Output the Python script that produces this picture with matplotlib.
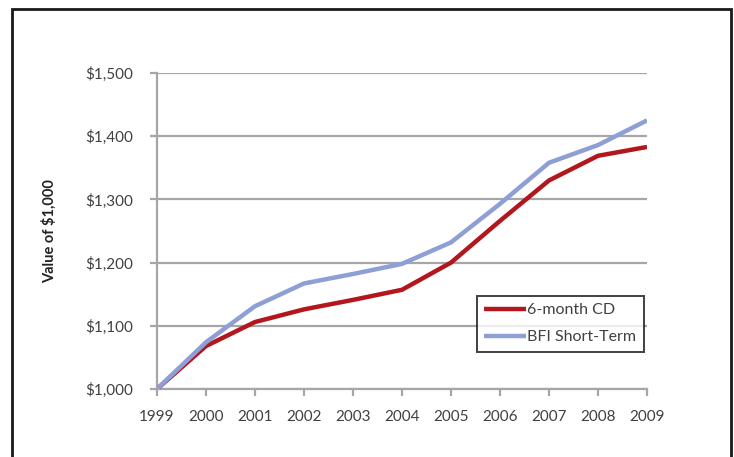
import matplotlib.pyplot as plt
from matplotlib.patches import Rectangle
from matplotlib.ticker import FuncFormatter

plt.rcParams['font.family'] = ['Lato', 'DejaVu Sans']

# Data
years = [1999, 2000, 2001, 2002, 2003, 2004, 2005, 2006, 2007, 2008, 2009]
cd_values = [1000, 1068, 1106, 1126, 1141, 1157, 1200, 1266, 1330, 1369, 1383]
bfi_values = [1000, 1074, 1131, 1167, 1182, 1198, 1232, 1293, 1358, 1386, 1425]
series_labels = ['6-month CD', 'BFI Short-Term']

text_color = '#404040'
grid_color = '#a6a6a6'

fig = plt.figure(figsize=(7.34, 4.57), dpi=100)
ax = fig.add_axes([157 / 734, 1 - 389 / 457, 490 / 734, 316 / 457])

ax.plot(years, cd_values, color='#b3161d', linewidth=3.2, label=series_labels[0],
        solid_capstyle='butt', zorder=3)
ax.plot(years, bfi_values, color='#8e9fd5', linewidth=3.2, label=series_labels[1],
        solid_capstyle='butt', zorder=4)

ax.set_xlim(1999, 2009)
ax.set_ylim(1000, 1500)
ax.set_xticks(years)
ax.set_yticks([1000, 1100, 1200, 1300, 1400, 1500])
ax.yaxis.set_major_formatter(FuncFormatter(lambda v, p: f'${v:,.0f}'))

ax.grid(True, axis='y', color=grid_color, linewidth=1.6)
ax.set_axisbelow(True)
for side in ['top', 'right']:
    ax.spines[side].set_visible(False)
for side in ['left', 'bottom']:
    ax.spines[side].set_color(grid_color)
    ax.spines[side].set_linewidth(1.6)

ax.tick_params(axis='x', length=5, width=1.6, color=grid_color, pad=10,
               labelsize=11, labelcolor=text_color)
ax.tick_params(axis='y', length=5, width=1.6, color=grid_color, pad=12,
               labelsize=11, labelcolor=text_color)

ax.set_ylabel('Value of $1,000', fontsize=10.5, fontweight='bold', color='#222222',
              labelpad=0)
ax.yaxis.set_label_coords(-0.205, 0.5)

leg = ax.legend(loc='upper left', bbox_to_anchor=((477 - 157) / 490, (389 - 296) / 316),
                frameon=True, fancybox=False, fontsize=11.5, handlelength=2.6,
                handletextpad=0.1, labelspacing=0.8, borderpad=0.45,
                borderaxespad=0)
leg.get_frame().set_edgecolor('#111111')
leg.get_frame().set_linewidth(1.4)
for t in leg.get_texts():
    t.set_color(text_color)

# outer frame around the chart (bottom edge falls off the image)
fig.add_artist(Rectangle((12 / 734, -0.05), (731 - 12) / 734, 1.05 - 9 / 457,
                         transform=fig.transFigure, fill=False,
                         edgecolor='#1a1a1a', linewidth=2))

plt.savefig('out.png', dpi=100)
